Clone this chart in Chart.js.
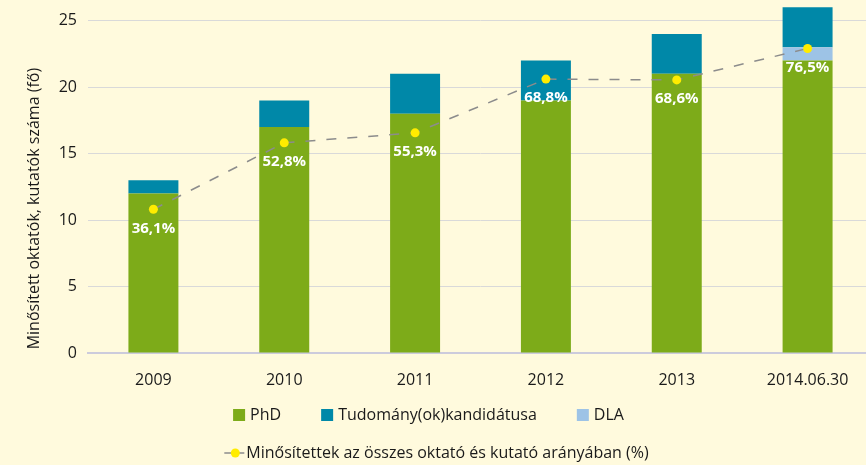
<!DOCTYPE html>
<html>
<head>
<meta charset="utf-8">
<script src="https://cdn.jsdelivr.net/npm/chart.js@4.4.1/dist/chart.umd.min.js"></script>
<style>
  html, body { margin: 0; padding: 0; background: #fffadd; overflow: hidden; }
  canvas { display: block; }
</style>
</head>
<body>
<canvas id="chart" width="880" height="465"></canvas>
<script>
// data
const categories = ['2009', '2010', '2011', '2012', '2013', '2014.06.30'];
const phd = [12, 17, 18, 19, 21, 22];
const kandidatus = [1, 2, 3, 3, 3, 3];
const dla = [0, 0, 0, 0, 0, 1];
const aranyPct = [36.1, 52.8, 55.3, 68.8, 68.6, 76.5];
const yTicks = [0, 5, 10, 15, 20, 25];

const seriesNames = ['PhD', 'Tudomány(ok)kandidátusa', 'DLA', 'Minősítettek az összes oktató és kutató arányában (%)'];
const yTitle = 'Minősített oktatók, kutatók száma (fő)';

const GREEN = '#7dab19';
const BLUE = '#0088a8';
const LIGHTBLUE = '#9dc3e6';
const LINE = '#8c8c8c';
const YELLOW = '#ffec00';
const TEXT = '#1a1a1a';

Chart.defaults.font.family = '"Open Sans", sans-serif';
Chart.defaults.font.size = 16;
Chart.defaults.color = TEXT;

const fmtPct = v => v.toFixed(1).replace('.', ',') + '%';

const yTitlePlugin = {
  id: 'yTitle',
  afterDraw(chart) {
    const ctx = chart.ctx;
    ctx.save();
    ctx.translate(34, chart.chartArea.top + 188);
    ctx.rotate(-Math.PI / 2);
    ctx.font = '16px "Open Sans"';
    ctx.fillStyle = TEXT;
    ctx.textAlign = 'center';
    ctx.textBaseline = 'middle';
    ctx.fillText(yTitle, 0, 0);
    ctx.restore();
  }
};

const pctLabels = {
  id: 'pctLabels',
  afterDatasetsDraw(chart) {
    const meta = chart.getDatasetMeta(3);
    const ctx = chart.ctx;
    ctx.save();
    ctx.font = 'bold 15px "Open Sans"';
    ctx.fillStyle = '#ffffff';
    ctx.textAlign = 'center';
    ctx.textBaseline = 'middle';
    meta.data.forEach((pt, i) => {
      ctx.fillText(fmtPct(aranyPct[i]), pt.x, pt.y + 19);
    });
    ctx.restore();
  }
};

// two-row legend: bar series on the first row, the line series below
const twoRowLegend = {
  id: 'twoRowLegend',
  afterDraw(chart) {
    const ctx = chart.ctx;
    const ds = chart.data.datasets;
    ctx.save();
    ctx.font = '16px "Open Sans"';
    ctx.textBaseline = 'middle';
    ctx.textAlign = 'left';

    const row1 = [0, 1, 2];
    const gap = 40;
    const widths = row1.map(i => 17 + ctx.measureText(ds[i].label).width);
    const total = widths.reduce((a, b) => a + b, 0) + gap * (row1.length - 1);
    let x = 428.5 - total / 2;
    const y1 = 415;
    row1.forEach((i, k) => {
      ctx.fillStyle = ds[i].backgroundColor;
      ctx.fillRect(x, y1 - 6, 12, 12);
      ctx.fillStyle = TEXT;
      ctx.fillText(ds[i].label, x + 17, y1);
      x += widths[k] + gap;
    });

    const line = ds[3];
    const tw = ctx.measureText(line.label).width;
    const y2 = 453;
    const lx = 436.5 - (22 + tw) / 2;
    ctx.strokeStyle = LINE;
    ctx.lineWidth = 1.5;
    ctx.beginPath();
    ctx.moveTo(lx, y2);
    ctx.lineTo(lx + 20, y2);
    ctx.stroke();
    ctx.fillStyle = YELLOW;
    ctx.beginPath();
    ctx.arc(lx + 11, y2, 4.5, 0, Math.PI * 2);
    ctx.fill();
    ctx.fillStyle = TEXT;
    ctx.fillText(line.label, lx + 22, y2);
    ctx.restore();
  }
};

const ctx = document.getElementById('chart').getContext('2d');

new Chart(ctx, {
  type: 'bar',
  data: {
    labels: categories,
    datasets: [
      // order sets the stacking: PhD at the bottom, then DLA, then kandidátus
      { label: seriesNames[0], data: phd, backgroundColor: GREEN, order: 1, clip: false },
      { label: seriesNames[1], data: kandidatus, backgroundColor: BLUE, order: 3, clip: false },
      { label: seriesNames[2], data: dla, backgroundColor: LIGHTBLUE, order: 2, clip: false },
      {
        type: 'line',
        label: seriesNames[3],
        data: aranyPct,
        yAxisID: 'y1',
        order: 0,
        borderColor: LINE,
        borderWidth: 1.5,
        borderDash: [10, 11],
        backgroundColor: YELLOW,
        pointBackgroundColor: YELLOW,
        pointBorderWidth: 0,
        pointRadius: 4.5,
        pointHoverRadius: 4.5,
        tension: 0
      }
    ]
  },
  options: {
    responsive: false,
    animation: false,
    layout: { padding: { top: 17, right: 7, left: 0, bottom: 80 } },
    datasets: { bar: { categoryPercentage: 1, barPercentage: 0.382 } },
    plugins: {
      tooltip: { enabled: false },
      legend: { display: false }
    },
    scales: {
      x: {
        stacked: true,
        grid: { display: false },
        border: { display: true, color: '#cccbdc', width: 2 },
        ticks: { padding: 10, color: TEXT, font: { size: 16 } },
        afterFit(scale) { scale.height = 32; }
      },
      y: {
        stacked: true,
        min: 0,
        max: 25,
        afterBuildTicks(scale) { scale.ticks = yTicks.map(v => ({ value: v })); },
        grid: { color: '#d9d9d9', lineWidth: 1, drawTicks: false },
        border: { display: false },
        ticks: { padding: 11, color: TEXT, font: { size: 16 } },
        afterFit(scale) { scale.width = 88; }
      },
      y1: {
        display: false,
        min: 0,
        max: 83.5,
        stacked: false
      }
    }
  },
  plugins: [yTitlePlugin, pctLabels, twoRowLegend]
});
</script>
</body>
</html>
